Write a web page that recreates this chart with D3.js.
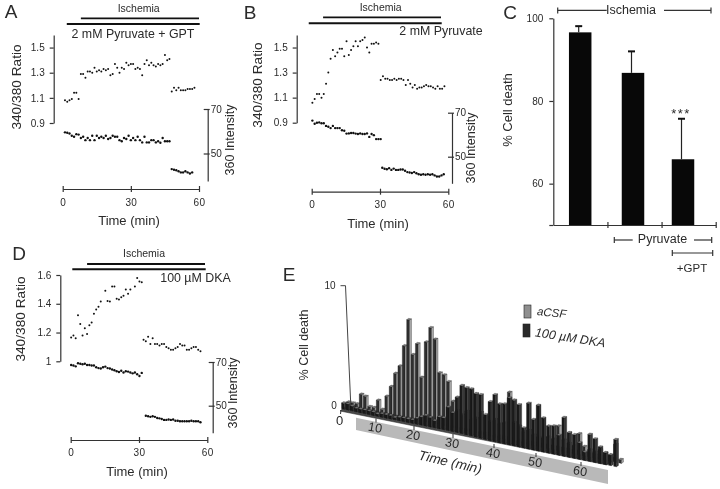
<!DOCTYPE html>
<html><head><meta charset="utf-8">
<script src="https://cdnjs.cloudflare.com/ajax/libs/d3/7.8.5/d3.min.js"></script>
<style>
html,body{margin:0;padding:0;background:#fff}
svg{display:block;filter:blur(0.35px)}
text{font-family:"Liberation Sans",Arial,sans-serif;fill:#2a2a2a}
.axis path,.axis line{stroke:#333;stroke-width:1.2;fill:none}
.axis text{font-size:10px;fill:#2a2a2a;font-family:"Liberation Sans",Arial,sans-serif}
</style></head><body>
<script>
// Panel A
const aRatio1=[1.08,1.07,1.08,1.09,1.14,1.14,1.09,1.29,1.29,1.26,1.31,1.31,1.30,1.34,1.31,1.32,1.31,1.33,1.32,1.33,1.28,1.29,1.37,1.34,1.30,1.34,1.33,1.38,1.36,1.37,1.37,1.33,1.34,1.33,1.28,1.37,1.40,1.36,1.38,1.36,1.35,1.37,1.36,1.37,1.44,1.40,1.41];
const aRatio2=[1.15,1.18,1.16,1.18,1.16,1.16,1.16,1.17,1.17,1.17,1.18];
const aInt1=[59.5,59.3,59,58,57.5,58.7,58.5,57,57.5,56,57,56,58,56,58,57,57.5,57,58,56.5,57,58,57.5,57.5,56,55.5,57,56.5,58,56,57,56,57.5,56,55,57.5,55,55,56,56,55,55.5,54.8,57,55.5,55.5,55.5];
const aInt2=[43,42.7,42.5,42,41.5,41.5,42,41.5,41,41.5];
// Panel B
const bRatio1=[1.06,1.09,1.13,1.13,1.10,1.13,1.21,1.30,1.41,1.48,1.43,1.46,1.49,1.49,1.43,1.55,1.44,1.48,1.51,1.55,1.51,1.55,1.56,1.58,1.50,1.46,1.53,1.53,1.54,1.53];
const bRatio2=[1.24,1.27,1.25,1.25,1.24,1.24,1.25,1.24,1.25,1.25,1.24,1.20,1.24,1.21,1.18,1.20,1.17,1.18,1.18,1.19,1.20,1.19,1.19,1.18,1.17,1.19,1.17,1.17,1.19];
const bInt1=[66.4,65,65.4,65.6,65.2,65.2,64,63.6,63,64,63,63,63,62,61.8,60.5,60.6,60.8,60.8,60.5,60.3,60.6,60.3,60.3,60.6,59,60.3,59.8,58,58,58];
const bInt2=[45,44.5,44.3,44.8,44,44.6,44,44,44.2,44.2,43.6,43,42.8,42.6,43,42.5,42,41.8,42,41.8,42,41.8,42,41.5,41,41,41.5,42];
// Panel D
const dRatio1=[1.165,1.18,1.16,1.32,1.26,1.18,1.23,1.19,1.25,1.27,1.33,1.36,1.38,1.415,null,1.49,1.42,1.415,1.52,1.52,1.435,1.43,1.445,1.455,1.50,1.47,1.50,null,1.52,1.58,1.555,1.55];
const dRatio2=[1.15,1.14,1.17,1.12,1.16,1.12,1.12,1.11,1.12,1.12,1.10,1.09,1.08,1.08,1.09,1.10,1.12,1.11,1.11,1.08,1.08,1.09,1.10,1.10,1.08,1.07];
const dInt1=[68.6,68.4,68,69.4,69.2,69,69.2,68.6,68.6,68.4,68.4,67.6,67.2,67,67.6,67.9,67.2,67,66.6,66.2,65.8,65.4,66,65.2,65.8,65.6,65.2,64.8,65.2,64.4,63.6,65];
const dInt2=[45.4,45.2,44.9,45.2,44.9,44.4,44.2,43.9,43.5,43.5,43.7,43.5,43.7,43.1,43.1,42.9,42.9,42.9,42.9,42.9,43.1,42.9,42.9,42.9,42.4];
// Panel C
const cCategories=["Ischemia","Ischemia + Pyruvate","Ischemia + Pyruvate + GPT"];
const cValues=[96.6,86.8,65.9];
const cErrors=[98.1,92,75.7];
const cTicks=[50,60,80,100];
// Panel E
const eAcsf=[.3,.3,.3,1.2,1.1,.3,.3,1.0,.3,1.5,2.4,3.6,4.3,6.1,8.4,5.5,6.5,3.7,6.8,8.1,7.2,4.4,4.3,3.8,2.2,1.5,1.2,1.6,1,1.2,1.8,1.5,1.2,1.5,1.2,1.4,4.1,1.6,1.4,1,1.2,.9,.8,.8,1,.9,2.1,1,.8,.7,1.8,.8,.6,.5,.8,.6,.5,1.5,.3];
const eDka=[.5,.5,.4,.3,.3,.3,.3,.3,.2,.3,.3,.3,.2,.3,.3,.3,.3,.5,.7,.9,.8,.6,1.0,1.0,2.0,1.6,3.0,4.1,4.0,4.0,3.7,3.7,2.1,3.3,4.0,3.3,3.4,4.0,3.9,3.6,1.7,3.9,2.6,3.9,2.9,2.3,2.4,1.7,3.3,2.1,2.0,1.4,.7,2.3,2,1.4,1,.9,2.3];
const eTimeTicks=[10,20,30,40,50,60];
const ischemiaLabel="Ischemia", timeLabel="Time (min)", ratioLabel="340/380 Ratio", intensityLabel="360 Intensity", deathLabel="% Cell death";

const svg=d3.select("body").append("svg").attr("width",720).attr("height",489);

function txt(x,y,s,size,opt={}){
  const t=svg.append("text").attr("x",x).attr("y",y).attr("font-size",size).attr("dominant-baseline","middle")
    .attr("text-anchor",opt.anchor||"middle").text(s);
  if(opt.rot!==undefined)t.attr("transform",`rotate(${opt.rot} ${x} ${y})`);
  if(opt.italic)t.attr("font-style","italic");
  if(opt.spacing)t.attr("letter-spacing",opt.spacing);
  return t;
}
function rule(x1,y1,x2,y2,w=1.2,c="#333"){svg.append("line").attr("x1",x1).attr("y1",y1).attr("x2",x2).attr("y2",y2).attr("stroke",c).attr("stroke-width",w);}

function tracePanel(p){
  const x=d3.scaleLinear([0,60],[p.x0,p.x60]);
  const yR=d3.scaleLinear(p.rDomain,p.rRange);
  const yI=d3.scaleLinear([50,70],p.iRange);
  const gx=svg.append("g").attr("class","axis").attr("transform",`translate(0,${p.axisY})`)
    .call(d3.axisBottom(x).tickValues([0,30,60]).tickSize(4).tickSizeOuter(0).tickPadding(6));
  gx.selectAll(".tick line").attr("y1",-3).attr("y2",3);
  gx.selectAll(".tick text").attr("dy",0).attr("y",p.tickLabelDy).attr("dominant-baseline","middle").attr("letter-spacing",.4);
  const gy=svg.append("g").attr("class","axis").attr("transform",`translate(${p.rAxisX},0)`)
    .call(d3.axisLeft(yR).tickValues(p.rTicks).tickFormat(p.rFormat).tickSize(4).tickSizeOuter(0).tickPadding(5));
  const gi=svg.append("g").attr("class","axis").attr("transform",`translate(${p.iAxisX},0)`)
    .call(d3.axisRight(yI.copy().domain([yI.invert(p.iBottom),70]).range([p.iBottom,p.iRange[1]])).tickValues([50,70]).tickFormat(d3.format("d")).tickSize(1).tickSizeOuter(0).tickPadding(2));
  gi.selectAll(".tick line").attr("x1",-4).attr("x2",2);
  const dots=(vals,start,scale,r)=>{
    svg.append("g").selectAll("circle").data(vals.map((v,i)=>({t:start+i,v})).filter(d=>d.v!==null)).join("circle")
      .attr("cx",d=>x(d.t)).attr("cy",d=>scale(d.v)).attr("r",r).attr("fill","#111");
  };
  dots(p.r1,p.r1s,yR,1); dots(p.r2,p.r2s,yR,1);
  dots(p.i1,p.i1s,yI,1.2); dots(p.i2,p.i2s,yI,1.2);
  rule(x(p.topBar),p.barY1,p.topEndX,p.barY1,1.8,"#111");
  rule(x(p.lowBar),p.barY2,p.topEndX+.7,p.barY2,2,"#111");
  txt(p.ischX,p.ischY,ischemiaLabel,10.5);
  txt(p.treatX,p.treatY,p.treat,p.treatSize);
  txt(p.timeX,p.timeY,timeLabel,13);
  txt(p.rLabelX,p.rLabelY,ratioLabel,p.rLabelSize,{rot:-90});
  txt(p.iLabelX,p.iLabelY,intensityLabel,12.5,{rot:-90});
  txt(p.letterX,p.letterY,p.letter,19);
}

tracePanel({letter:"A",letterX:11,letterY:13,x0:62.7,x60:199,axisY:189,tickLabelDy:14,rDomain:[0.9,1.6],rRange:[123,35],rTicks:[0.9,1.1,1.3,1.5],rFormat:d3.format(".1f"),rAxisX:53.7,
  iRange:[153.5,109],iBottom:181,iAxisX:207.7,r1:aRatio1,r1s:1,r2:aRatio2,r2s:48,i1:aInt1,i1s:1,i2:aInt2,i2s:48,topBar:8,lowBar:1.8,topEndX:199,barY1:18.3,barY2:24,
  ischX:138.7,ischY:9,treat:"2 mM Pyruvate + GPT",treatX:133,treatY:35,treatSize:12.4,timeX:129,timeY:221.7,rLabelX:17,rLabelY:87,rLabelSize:13.7,iLabelX:231,iLabelY:140,iLabelSize:12.5});
tracePanel({letter:"B",letterX:250,letterY:14,x0:311.7,x60:448.3,axisY:191.7,tickLabelDy:13.5,rDomain:[0.9,1.6],rRange:[122.7,35],rTicks:[0.9,1.1,1.3,1.5],rFormat:d3.format(".1f"),rAxisX:296.7,
  iRange:[156.7,112.7],iBottom:183.3,iAxisX:452,r1:bRatio1,r1s:0.3,r2:bRatio2,r2s:30.3,i1:bInt1,i1s:0.3,i2:bInt2,i2s:31,topBar:5,lowBar:-1.3,topEndX:441,barY1:17.3,barY2:23.3,
  ischX:380.7,ischY:8,treat:"2 mM Pyruvate",treatX:441,treatY:32,treatSize:12.4,timeX:378,timeY:225,rLabelX:258,rLabelY:85,rLabelSize:13.7,iLabelX:472,iLabelY:148});
tracePanel({letter:"D",letterX:19,letterY:255,x0:70.7,x60:207.3,axisY:440,tickLabelDy:13.5,rDomain:[1,1.6],rRange:[361.3,275],rTicks:[1,1.2,1.4,1.6],rFormat:d=>d===1?"1":d3.format(".1f")(d),rAxisX:60.3,
  iRange:[405.7,362],iBottom:432.7,iAxisX:212.7,r1:dRatio1,r1s:0.2,r2:dRatio2,r2s:32,i1:dInt1,i1s:0.2,i2:dInt2,i2s:33,topBar:7.2,lowBar:0.7,topEndX:205,barY1:264,barY2:269.3,
  ischX:144,ischY:254.7,treat:"100 µM DKA",treatX:195.5,treatY:279,treatSize:12.4,timeX:137,timeY:473,rLabelX:21,rLabelY:319,rLabelSize:13.7,iLabelX:233.5,iLabelY:393});

// Panel C
(function(){
  const y=d3.scaleLinear([50,100],[225,18.3]);
  const x=d3.scaleOrdinal(cCategories,[580.2,633,683]);
  const tx=d3.scaleLinear([0,3],[553.3,715.7]);
  const gy=svg.append("g").attr("class","axis").attr("transform","translate(553.3,0)")
    .call(d3.axisLeft(y).tickValues(cTicks).tickFormat(d=>d===50?"":d).tickSize(4).tickSizeOuter(0).tickPadding(6));
  const gx=svg.append("g").attr("class","axis").attr("transform","translate(0,225)")
    .call(d3.axisBottom(tx).tickValues([1,2,3]).tickFormat("").tickSize(3).tickSizeOuter(0));
  gx.selectAll(".tick line").attr("y1",-3).attr("y2",3);
  const w=22.5;
  svg.append("g").selectAll("rect").data(cCategories).join("rect")
    .attr("x",d=>x(d)-w/2).attr("width",w).attr("y",(d,i)=>y(cValues[i])).attr("height",(d,i)=>y(50)-y(cValues[i])).attr("fill","#080808");
  cCategories.forEach((c,i)=>{
    const cx=x(c)-1.5;
    rule(cx,y(cValues[i]),cx,y(cErrors[i]),1.2,"#222");
    rule(cx-3.5,y(cErrors[i]),cx+3.5,y(cErrors[i]),2,"#111");
  });
  txt(681,115,"***",13,{spacing:1.5});
  // brackets
  rule(557.7,10.3,606.7,10.3); rule(557.7,7.5,557.7,13.5);
  rule(664,10.3,711,10.3); rule(711,7.5,711,13.5);
  txt(631,10.5,ischemiaLabel,12.5);
  rule(614.3,240,632.7,240); rule(614.3,237,614.3,243);
  rule(694,240,711.7,240); rule(711.7,237,711.7,243);
  txt(662.5,240,"Pyruvate",12.5);
  rule(672.3,253,712.7,253); rule(672.3,250,672.3,256); rule(712.7,250,712.7,256);
  txt(692,269,"+GPT",11.5);
  txt(509,110,deathLabel,13,{rot:-90});
  txt(510,14,"C",19);
})();

// Panel E
(function(){
  const tDom=[0,10,20,30,40,50,60,70];
  const fx=d3.scaleLinear(tDom,[339,376,414,453,494,536,581,626]);
  const fy=d3.scaleLinear(tDom,[410.5,418.5,426,434,444,453,462,471]);
  const hy=d3.scaleLinear([0,10],[0,117]);
  const minPerBar=1.15;
  const band=[[356,417.7],[608,470],[608,484],[356,430]];
  svg.append("polygon").attr("points",band.join(" ")).attr("fill","#b9b9b9");
  const floor=[[347,405],[618,458],[607,465],[340,411]];
  svg.append("polygon").attr("points",floor.join(" ")).attr("fill","#4a4a4a").attr("stroke","#222").attr("stroke-width",.5);
  function row(values,dx,dy,cA,cB,cTop){
    const g=svg.append("g");
    values.forEach((v,i)=>{
      const t=i*minPerBar;
      const X=fx(t)+dx, Y=fy(t)+dy, h=hy(v);
      const W=2.8, S=.2*W, Dx=2, Dy=-1.3;
      g.append("polygon").attr("points",[[X,Y],[X+W,Y+S],[X+W,Y+S-h],[X,Y-h]].join(" ")).attr("fill",cA).attr("stroke","#111").attr("stroke-width",.3);
      g.append("polygon").attr("points",[[X+W,Y+S],[X+W+Dx,Y+S+Dy],[X+W+Dx,Y+S+Dy-h],[X+W,Y+S-h]].join(" ")).attr("fill",cB).attr("stroke","#111").attr("stroke-width",.3);
      g.append("polygon").attr("points",[[X,Y-h],[X+W,Y+S-h],[X+W+Dx,Y+S+Dy-h],[X+Dx,Y+Dy-h]].join(" ")).attr("fill",cTop).attr("stroke","#111").attr("stroke-width",.2);
    });
  }
  row(eAcsf,7.5,-5.2,"#303030","#a8a8a8","#777");
  row(eDka,2.5,-1.8,"#1a1a1a","#3a3a3a","#777");
  // axis
  const vy=d3.scaleLinear([0,10],[403,285.7]), vx=d3.scaleLinear([0,10],[350.7,345.5]);
  rule(vx(0),vy(0),vx(10),vy(10),1,"#444"); rule(vx(10)-5,vy(10),vx(10),vy(10),1,"#444");
  txt(330,286,"10",10); txt(334,406.5,"0",10);
  txt(339.5,422,"0",13);
  rule(341,410,340.5,414,1,"#333");
  eTimeTicks.forEach(t=>{
    rule(fx(t),fy(t),fx(t),fy(t)+4,1,"#333");
    txt(fx(t)-1,fy(t)+10,t,12.5,{rot:10});
  });
  txt(450,463,timeLabel,13.5,{rot:13,italic:true});
  txt(304.5,345,deathLabel,12.5,{rot:-90});
  txt(289,276,"E",19);
  const sw=(x,y,c)=>svg.append("rect").attr("x",x).attr("y",y).attr("width",7).attr("height",13).attr("fill",c).attr("stroke","#222").attr("stroke-width",.6);
  sw(524,305,"#8f8f8f"); sw(523,324,"#2a2a2a");
  txt(537,312,"aCSF",11.5,{anchor:"start",rot:6,italic:true});
  txt(535,333,"100 µM DKA",12.5,{anchor:"start",rot:9,italic:true});
})();
</script>
</body></html>
